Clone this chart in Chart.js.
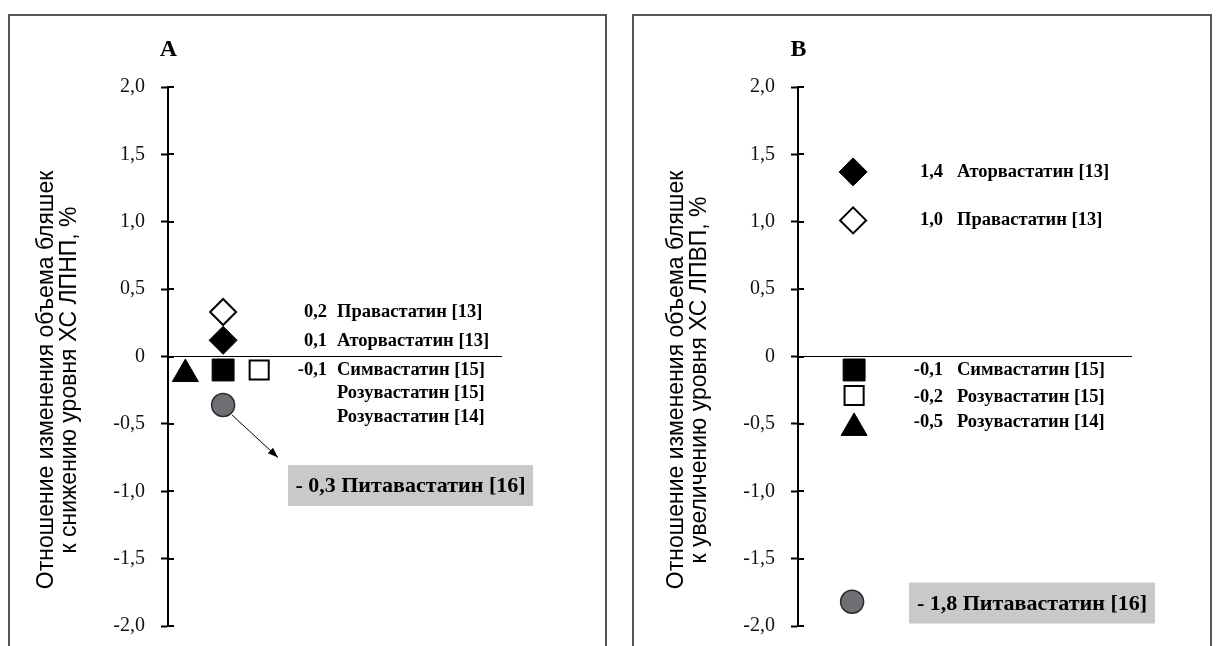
<!DOCTYPE HTML>
<html>
<head>
    <title>Statins</title>
    <meta charset="utf-8" />
    <script src="https://cdn.jsdelivr.net/npm/chart.js@4.4.1/dist/chart.umd.min.js"></script>
    <style>
        body { margin: 0; background: #fff; }
        .frame { position: absolute; top: 14px; height: 700px; border: 2px solid #555; border-bottom: none; box-sizing: border-box; }
        .holder { position: absolute; top: 0; height: 646px; }
    </style>
</head>
<body>
    <div class="frame" style="left:8px; width:599px"></div>
    <div class="frame" style="left:632px; width:580px"></div>
    <div class="holder" style="left:0; width:615px"><canvas id="chartA"></canvas></div>
    <div class="holder" style="left:615px; width:603px"><canvas id="chartB"></canvas></div>

    <script>
        // y axis
        const tickValues = [2, 1.5, 1, 0.5, 0, -0.5, -1, -1.5, -2];
        const tickLabels = ['2,0', '1,5', '1,0', '0,5', '0', '-0,5', '-1,0', '-1,5', '-2,0'];

        // marker kinds, same order in both panels
        const kinds = ['openDiamond', 'filledDiamond', 'triangle', 'filledSquare', 'openSquare', 'circle'];

        // panel A: change of plaque volume vs LDL lowering
        const columnA = [1.65, 1.65, 0.52, 1.65, 2.73, 1.65];
        const valuesA = [0.33, 0.12, -0.13, -0.1, -0.1, -0.36];
        const numsA = ['0,2', '0,1', '-0,1', '', ''];
        const namesA = ['Правастатин [13]', 'Аторвастатин [13]', 'Симвастатин [15]', 'Розувастатин [15]', 'Розувастатин [14]'];
        const rowsA = [0.33, 0.115, -0.1, -0.27, -0.45];
        const boxA = '- 0,3 Питавастатин [16]';
        const titleA = ['Отношение изменения объема бляшек', 'к снижению уровня ХС ЛПНП, %'];

        // panel B: change of plaque volume vs HDL increase
        const columnB = [1.65, 1.65, 1.68, 1.68, 1.68, 1.62];
        const valuesB = [1.01, 1.37, -0.53, -0.1, -0.29, -1.82];
        const numsB = ['1,4', '1,0', '-0,1', '-0,2', '-0,5'];
        const namesB = ['Аторвастатин [13]', 'Правастатин [13]', 'Симвастатин [15]', 'Розувастатин [15]', 'Розувастатин [14]'];
        const rowsB = [1.37, 1.01, -0.1, -0.3, -0.485];
        const boxB = '- 1,8 Питавастатин [16]';
        const titleB = ['Отношение изменения объема бляшек', 'к увеличению уровня ХС ЛПВП, %'];

        const styles = {
            openDiamond:   { pointStyle: 'rectRot',  radius: 13,   bg: '#fff',    border: '#000', bw: 2 },
            filledDiamond: { pointStyle: 'rectRot',  radius: 14,   bg: '#000',    border: '#000', bw: 1 },
            triangle:      { pointStyle: 'triangle', radius: 15,   bg: '#000',    border: '#000', bw: 1 },
            filledSquare:  { pointStyle: 'rect',     radius: 15.5, bg: '#000',    border: '#000', bw: 1 },
            openSquare:    { pointStyle: 'rect',     radius: 13.5, bg: '#fff',    border: '#000', bw: 2 },
            circle:        { pointStyle: 'circle',   radius: 11.5, bg: '#6f7075', border: '#2a2a2a', bw: 1.5 }
        };

        const serif = '"Liberation Serif", "Times New Roman", serif';
        const sans = '"Liberation Sans", Arial, sans-serif';

        const decor = {
            id: 'decor',
            afterDraw(chart, args, o) {
                const ctx = chart.ctx;
                const y = chart.scales.y;
                const L = chart.chartArea.left;
                ctx.save();

                // ticks cross the axis
                ctx.strokeStyle = '#000';
                ctx.lineWidth = 2;
                y.ticks.forEach(t => {
                    const py = Math.round(y.getPixelForValue(t.value));
                    ctx.beginPath();
                    ctx.moveTo(L, py);
                    ctx.lineTo(L + 6, py);
                    ctx.stroke();
                });

                ctx.fillStyle = '#000';
                ctx.textBaseline = 'middle';

                // panel letter
                ctx.font = 'bold 24px ' + serif;
                ctx.textAlign = 'center';
                ctx.fillText(o.letter, L + 0.5, 50);

                // two-line axis title
                ctx.save();
                ctx.font = '23px ' + sans;
                ctx.translate(L - 121, 380);
                ctx.rotate(-Math.PI / 2);
                ctx.fillText(o.title[0], 0, 0);
                ctx.fillText(o.title[1], 0, 23);
                ctx.restore();

                // value labels
                ctx.font = 'bold 18.5px ' + serif;
                o.names.forEach((name, i) => {
                    const py = y.getPixelForValue(o.rows[i]);
                    ctx.textAlign = 'right';
                    ctx.fillText(o.nums[i], L + o.numX, py);
                    ctx.textAlign = 'left';
                    ctx.fillText(name, L + o.nameX, py);
                });

                // grey box
                const by = y.getPixelForValue(o.boxY);
                ctx.fillStyle = '#c8c9cb';
                ctx.fillRect(L + o.boxX0, by - 20.5, o.boxX1 - o.boxX0, 41);
                ctx.fillStyle = '#000';
                ctx.font = 'bold 22px ' + serif;
                ctx.textAlign = 'center';
                ctx.fillText(o.box, L + (o.boxX0 + o.boxX1) / 2, by + 1);

                // arrow from the circle to the box
                if (o.arrow) {
                    const pt = chart.getDatasetMeta(5).data[0];
                    const x0 = pt.x + 9, y0 = pt.y + 10;
                    const x1 = L + 110, y1 = y.getPixelForValue(-0.75);
                    ctx.lineWidth = 1;
                    ctx.beginPath();
                    ctx.moveTo(x0, y0);
                    ctx.lineTo(x1, y1);
                    ctx.stroke();
                    const a = Math.atan2(y1 - y0, x1 - x0);
                    ctx.beginPath();
                    ctx.moveTo(x1, y1);
                    ctx.lineTo(x1 - 11 * Math.cos(a - 0.35), y1 - 11 * Math.sin(a - 0.35));
                    ctx.lineTo(x1 - 11 * Math.cos(a + 0.35), y1 - 11 * Math.sin(a + 0.35));
                    ctx.closePath();
                    ctx.fill();
                }
                ctx.restore();
            }
        };

        function makeChart(id, cols, vals, axisWidth, rightPad, decorOpts) {
            const datasets = kinds.map((k, i) => {
                const s = styles[k];
                return {
                    label: k,
                    data: [{ x: cols[i], y: vals[i] }],
                    pointStyle: s.pointStyle,
                    pointRadius: s.radius,
                    pointBackgroundColor: s.bg,
                    pointBorderColor: s.border,
                    pointBorderWidth: s.bw
                };
            });
            return new Chart(document.getElementById(id), {
                type: 'scatter',
                data: { datasets: datasets },
                options: {
                    responsive: true,
                    maintainAspectRatio: false,
                    animation: false,
                    events: [],
                    layout: { padding: { top: 87, bottom: 20, left: 0, right: rightPad } },
                    plugins: {
                        legend: { display: false },
                        tooltip: { enabled: false },
                        decor: decorOpts
                    },
                    scales: {
                        x: { type: 'linear', display: false, min: 0, max: 10 },
                        y: {
                            type: 'linear',
                            min: -2,
                            max: 2,
                            afterBuildTicks: s => { s.ticks = tickValues.map(v => ({ value: v })); },
                            afterFit: s => {
                                s.width = axisWidth;
                                s.paddingTop = 0;
                                s.paddingBottom = 0;
                            },
                            border: { display: true, color: '#000', width: 2 },
                            grid: {
                                drawOnChartArea: true,
                                color: c => (c.tick && c.tick.value === 0) ? '#000' : 'rgba(0,0,0,0)',
                                lineWidth: 1,
                                tickColor: '#000',
                                tickWidth: 2,
                                tickLength: 7
                            },
                            ticks: {
                                color: '#111',
                                padding: 16,
                                font: { family: serif, size: 20 },
                                callback: (v, i) => tickLabels[i]
                            }
                        }
                    }
                },
                plugins: [decor]
            });
        }

        makeChart('chartA', columnA, valuesA, 168, 113, {
            letter: 'A', title: titleA, names: namesA, nums: numsA, rows: rowsA,
            numX: 159, nameX: 169, box: boxA, boxY: -0.957, boxX0: 120, boxX1: 365, arrow: true
        });
        makeChart('chartB', columnB, valuesB, 183, 86, {
            letter: 'B', title: titleB, names: namesB, nums: numsB, rows: rowsB,
            numX: 145, nameX: 159, box: boxB, boxY: -1.83, boxX0: 111, boxX1: 357, arrow: false
        });
    </script>
</body>
</html>
